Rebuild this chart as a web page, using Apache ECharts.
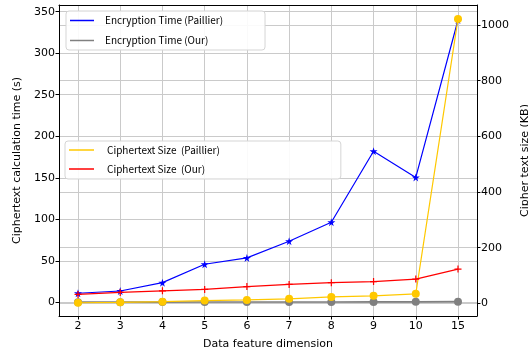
<!DOCTYPE html>
<html><head><meta charset="utf-8">
<script src="https://cdn.jsdelivr.net/npm/echarts@6/dist/echarts.min.js"></script>
<style>html,body{margin:0;padding:0;background:#fff}#c{width:528px;height:356px}</style>
</head><body><div id="c"></div>
<script>
const categories = ['2','3','4','5','6','7','8','9','10','15'];
const encPaillier = [10.9, 13.6, 23.7, 45.8, 53.5, 73.6, 96.5, 182, 150.4, 340];
const encOur = [0.2, 0.2, 0.25, 0.3, 0.35, 0.4, 0.45, 0.5, 0.55, 0.8];
const sizePaillier = [2, 3.5, 6, 10, 12, 16, 23, 27, 34, 1022];
const sizeOur = [32, 39, 45, 50, 60, 68, 74, 78, 87, 123];
const leftTicks = [0, 50, 100, 150, 200, 250, 300, 350];
const rightTicks = [0, 200, 400, 600, 800, 1000];
const xTicks = categories.map((c, i) => i);

const pairs = arr => arr.map((v, i) => [i, v]);
const STAR = 'path://M50,0 L61,35 L98,35 L68,57 L79,91 L50,70 L21,91 L32,57 L2,35 L39,35 Z';
const PLUS = 'path://M0,5 L10,5 M5,0 L5,10';
const tickFont = {color: '#000', fontSize: 11, fontFamily: 'DejaVu Sans'};
const nameFont = {color: '#000', fontSize: 11, fontFamily: 'DejaVu Sans'};
const gridLine = {show: true, lineStyle: {color: '#cacaca', width: 1}};

const chart = echarts.init(document.getElementById('c'), null, {renderer: 'canvas'});
chart.setOption({
  animation: false,
  backgroundColor: '#fff',
  grid: {left: 59, right: 51, top: 5, bottom: 40, outerBoundsMode: 'none', containLabel: false},
  legend: [{
    data: ['Encryption Time (Paillier)', 'Encryption Time (Our)'],
    orient: 'vertical', left: 66, top: 11, icon: 'rect', itemWidth: 24, itemHeight: 1.5, itemGap: 8,
    padding: [3.5, 42, 3.5, 4], backgroundColor: 'rgba(255,255,255,0.9)', borderColor: '#d5d5d5',
    borderWidth: 1, borderRadius: 3, selectedMode: false, itemStyle: {borderWidth: 0},
    textStyle: {fontSize: 10, fontFamily: 'Noto Sans CJK SC', color: '#000', lineHeight: 12, padding: [0, 0, 0, 6]}
  }, {
    data: ['Ciphertext Size  (Paillier)', 'Ciphertext Size  (Our)'],
    orient: 'vertical', left: 65, top: 141, icon: 'rect', itemWidth: 25, itemHeight: 1.5, itemGap: 7,
    padding: [3, 121, 4, 4], backgroundColor: 'rgba(255,255,255,0.9)', borderColor: '#d5d5d5',
    borderWidth: 1, borderRadius: 3, selectedMode: false, itemStyle: {borderWidth: 0},
    textStyle: {fontSize: 10, fontFamily: 'Noto Sans CJK SC', color: '#000', lineHeight: 12, padding: [0, 0, 0, 8]}
  }],
  xAxis: [{
    type: 'value', min: -0.45, max: 9.45, splitNumber: 10, position: 'bottom',
    axisLine: {show: true, onZero: false, lineStyle: {color: '#000', width: 1}},
    axisTick: {show: true, length: 3.5, lineStyle: {color: '#000'}, customValues: xTicks},
    axisLabel: Object.assign({customValues: xTicks, margin: 5,
      formatter: v => { const i = Math.round(v); return Math.abs(v - i) < 1e-6 && categories[i] !== undefined ? categories[i] : ''; }}, tickFont),
    splitLine: gridLine,
    name: 'Data feature dimension', nameLocation: 'middle', nameGap: 23,
    nameTextStyle: nameFont
  }, {
    type: 'value', min: -0.45, max: 9.45, position: 'top',
    axisLine: {show: true, onZero: false, lineStyle: {color: '#000', width: 1}},
    axisTick: {show: false}, axisLabel: {show: false}, splitLine: {show: false}
  }],
  yAxis: [{
    type: 'value', min: -16.5, max: 358.1, splitNumber: 7, position: 'left',
    axisLine: {show: true, onZero: false, lineStyle: {color: '#000', width: 1}},
    axisTick: {show: true, length: 3.5, lineStyle: {color: '#000'}, customValues: leftTicks},
    axisLabel: Object.assign({customValues: leftTicks, margin: 4,
      formatter: v => leftTicks.indexOf(v) >= 0 ? String(v) : ''}, tickFont),
    splitLine: gridLine,
    name: 'Ciphertext calculation time (s)', nameLocation: 'middle', nameGap: 36, nameRotate: 90,
    nameTextStyle: nameFont
  }, {
    type: 'value', min: -45.6, max: 1071.9, splitNumber: 5, position: 'right',
    axisLine: {show: true, onZero: false, lineStyle: {color: '#000', width: 1}},
    axisTick: {show: true, length: 3.5, lineStyle: {color: '#000'}, customValues: rightTicks},
    axisLabel: Object.assign({customValues: rightTicks, margin: 4,
      formatter: v => rightTicks.indexOf(v) >= 0 ? String(v) : ''}, tickFont),
    splitLine: gridLine,
    name: 'Cipher text size (KB)', nameLocation: 'middle', nameGap: 38, nameRotate: 90,
    nameTextStyle: nameFont
  }],
  series: [{
    name: 'Encryption Time (Paillier)', type: 'line', xAxisIndex: 0, yAxisIndex: 0,
    data: pairs(encPaillier), symbol: STAR, symbolSize: 8, color: '#0000ff',
    lineStyle: {width: 1.2, color: '#0000ff'}, itemStyle: {color: '#0000ff', borderWidth: 0}, z: 2
  }, {
    name: 'Encryption Time (Our)', type: 'line', xAxisIndex: 0, yAxisIndex: 0,
    data: pairs(encOur), symbol: 'circle', symbolSize: 8, color: '#808080',
    lineStyle: {width: 1.6, color: '#808080'}, itemStyle: {color: '#808080', borderWidth: 0}, z: 2
  }, {
    name: 'Ciphertext Size  (Paillier)', type: 'line', xAxisIndex: 0, yAxisIndex: 1,
    data: pairs(sizePaillier), symbol: 'circle', symbolSize: 8, color: '#ffc800',
    lineStyle: {width: 1.2, color: '#ffc800'}, itemStyle: {color: '#ffc800', borderWidth: 0}, z: 3
  }, {
    name: 'Ciphertext Size  (Our)', type: 'line', xAxisIndex: 0, yAxisIndex: 1,
    data: pairs(sizeOur), symbol: PLUS, symbolSize: 7, color: '#ff0000',
    lineStyle: {width: 1.2, color: '#ff0000'}, itemStyle: {color: '#ff0000', borderColor: '#ff0000', borderWidth: 1.2}, z: 3
  }]
});
</script>
</body></html>
